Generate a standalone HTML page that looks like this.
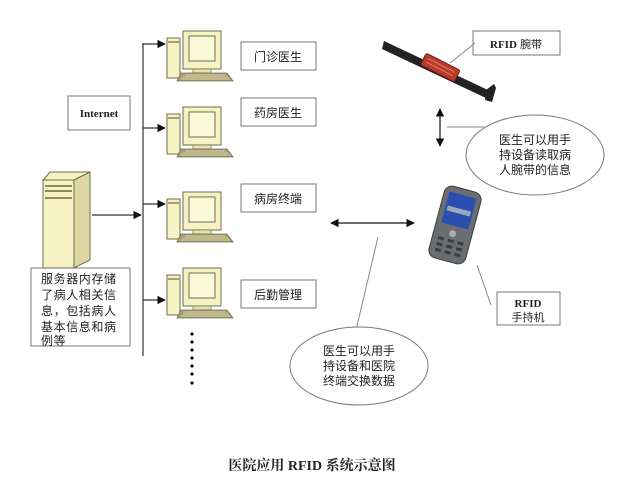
<!DOCTYPE html>
<html><head><meta charset="utf-8"><style>
html,body{margin:0;padding:0;background:#fff}
svg{display:block}
text{font-family:"Liberation Sans","Noto Sans CJK SC",sans-serif;fill:#222}
.sf{font-family:"Liberation Serif","Noto Serif CJK SC",serif;font-weight:bold}
</style></head><body>
<svg width="629" height="495" viewBox="0 0 629 495" xmlns="http://www.w3.org/2000/svg">
<defs>
<marker id="ar" viewBox="0 0 10 10" refX="9" refY="5" markerWidth="7" markerHeight="7" orient="auto-start-reverse"><path d="M0,0L10,5L0,10z" fill="#111"/></marker>
<g id="pc">
  <rect x="0" y="7" width="13" height="40" fill="#f6f2c4" stroke="#6f6f50" stroke-width="1"/>
  <rect x="1" y="10" width="11" height="2" fill="#a8a070"/>
  <rect x="16" y="0" width="38" height="38" fill="#f6f2c4" stroke="#6f6f50" stroke-width="1"/>
  <rect x="22" y="5" width="26" height="25" fill="#fbf8d8" stroke="#6f6f50" stroke-width="1"/>
  <rect x="26" y="38" width="18" height="4" fill="#e8e2b0" stroke="#6f6f50" stroke-width="0.7"/>
  <path d="M14,42L60,42L66,50L10,50z" fill="#a9a07a" stroke="#6f6f50" stroke-width="0.8"/>
  <path d="M18,44L58,44M16,46L61,46M14,48L63,48" stroke="#e8e2b0" stroke-width="0.8"/>
</g>
</defs>

<line x1="143" y1="43" x2="143" y2="356" stroke="#333" stroke-width="1.2"/>
<line x1="143" y1="44" x2="165" y2="44" stroke="#333" stroke-width="1.2" marker-end="url(#ar)"/>
<line x1="143" y1="128" x2="165" y2="128" stroke="#333" stroke-width="1.2" marker-end="url(#ar)"/>
<line x1="143" y1="204" x2="165" y2="204" stroke="#333" stroke-width="1.2" marker-end="url(#ar)"/>
<line x1="143" y1="300" x2="165" y2="300" stroke="#333" stroke-width="1.2" marker-end="url(#ar)"/>
<line x1="92" y1="215" x2="141" y2="215" stroke="#333" stroke-width="1.2" marker-end="url(#ar)"/>

<use href="#pc" x="167" y="31"/>
<use href="#pc" x="167" y="107"/>
<use href="#pc" x="167" y="192"/>
<use href="#pc" x="167" y="268"/>

<g fill="#fff" stroke="#777" stroke-width="1">
<rect x="241" y="42" width="75" height="28"/>
<rect x="241" y="98" width="75" height="28"/>
<rect x="241" y="184" width="75" height="28"/>
<rect x="241" y="280" width="75" height="28"/>
<rect x="68" y="96" width="62" height="34"/>
<rect x="31" y="268" width="99" height="78"/>
<rect x="473" y="31" width="87" height="24"/>
<rect x="497" y="292" width="63" height="33"/>
</g>
<g font-size="12">
<text x="278" y="61" text-anchor="middle">门诊医生</text>
<text x="278" y="117" text-anchor="middle">药房医生</text>
<text x="278" y="203" text-anchor="middle">病房终端</text>
<text x="278" y="299" text-anchor="middle">后勤管理</text>
</g>
<text x="99" y="117" text-anchor="middle" font-size="11" class="sf">Internet</text>
<g font-size="12" letter-spacing="0.6">
<text x="41" y="283">服务器内存储</text>
<text x="41" y="299">了病人相关信</text>
<text x="41" y="315">息，包括病人</text>
<text x="41" y="331">基本信息和病</text>
<text x="41" y="345">例等</text>
</g>

<!-- server -->
<path d="M43,180L50,172L90,172L74,180z" fill="#f6f2c4" stroke="#6f6f50"/>
<path d="M74,180L90,172L90,260L74,268z" fill="#ddd7a0" stroke="#6f6f50"/>
<rect x="43" y="180" width="31" height="88" fill="#f6f2c4" stroke="#6f6f50"/>
<rect x="45" y="185" width="27" height="2" fill="#8f8860"/>
<rect x="45" y="190" width="27" height="2" fill="#8f8860"/>
<rect x="45" y="197" width="27" height="2" fill="#8f8860"/>

<g fill="#111">
<circle cx="192" cy="334" r="1.6"/><circle cx="192" cy="342" r="1.6"/><circle cx="192" cy="350" r="1.6"/>
<circle cx="192" cy="358" r="1.6"/><circle cx="192" cy="366" r="1.6"/><circle cx="192" cy="374" r="1.6"/><circle cx="192" cy="383" r="1.6"/>
</g>

<!-- wristband -->
<path d="M384,41L490,91L488,99L382,49z" fill="#222"/>
<path d="M486,90L494,84L496,88L492,102L485,100z" fill="#222"/>
<g transform="rotate(27 440 68)"><rect x="421" y="61" width="38" height="13" rx="2" fill="#b83a2a" stroke="#6a1a10"/>
<line x1="425" y1="65" x2="455" y2="65" stroke="#e07a60" stroke-width="1"/><line x1="425" y1="69" x2="455" y2="69" stroke="#e07a60" stroke-width="1"/></g>
<line x1="450" y1="63" x2="475" y2="43" stroke="#888" stroke-width="1"/>
<text x="516" y="48" text-anchor="middle" font-size="11"><tspan class="sf">RFID</tspan> 腕带</text>

<line x1="440" y1="109" x2="440" y2="146" stroke="#111" stroke-width="1.2" marker-start="url(#ar)" marker-end="url(#ar)"/>
<line x1="447" y1="127" x2="484" y2="127" stroke="#888" stroke-width="1"/>
<ellipse cx="535" cy="155" rx="69" ry="40" fill="#fff" stroke="#777"/>
<g font-size="12" text-anchor="middle">
<text x="535" y="144">医生可以用手</text><text x="535" y="159">持设备读取病</text><text x="535" y="174">人腕带的信息</text>
</g>

<g transform="rotate(15 455 225)">
<rect x="436" y="188" width="38" height="74" rx="8" fill="#6a6e70" stroke="#3a3d40"/>
<rect x="441" y="194" width="28" height="32" fill="#2b4fb0"/>
<rect x="443" y="208" width="24" height="5" fill="#9ab"/>
<circle cx="455" cy="234" r="3.5" fill="#aab"/>
<g fill="#3a3d40"><rect x="442" y="240" width="6" height="3"/><rect x="452" y="240" width="6" height="3"/><rect x="462" y="240" width="6" height="3"/>
<rect x="442" y="246" width="6" height="3"/><rect x="452" y="246" width="6" height="3"/><rect x="462" y="246" width="6" height="3"/>
<rect x="442" y="252" width="6" height="3"/><rect x="452" y="252" width="6" height="3"/><rect x="462" y="252" width="6" height="3"/></g>
</g>

<line x1="331" y1="223" x2="414" y2="223" stroke="#111" stroke-width="1.2" marker-start="url(#ar)" marker-end="url(#ar)"/>
<line x1="378" y1="237" x2="356" y2="330" stroke="#888" stroke-width="1"/>
<line x1="477" y1="265" x2="491" y2="305" stroke="#888" stroke-width="1"/>
<text x="528" y="307" text-anchor="middle" font-size="11" class="sf">RFID</text>
<text x="528" y="321" text-anchor="middle" font-size="11">手持机</text>

<ellipse cx="359" cy="366" rx="69" ry="39" fill="#fff" stroke="#777"/>
<g font-size="12" text-anchor="middle">
<text x="359" y="355">医生可以用手</text><text x="359" y="370">持设备和医院</text><text x="359" y="385">终端交换数据</text>
</g>

<text x="312" y="470" text-anchor="middle" font-size="14" class="sf">医院应用 RFID 系统示意图</text>
</svg>
</body></html>
